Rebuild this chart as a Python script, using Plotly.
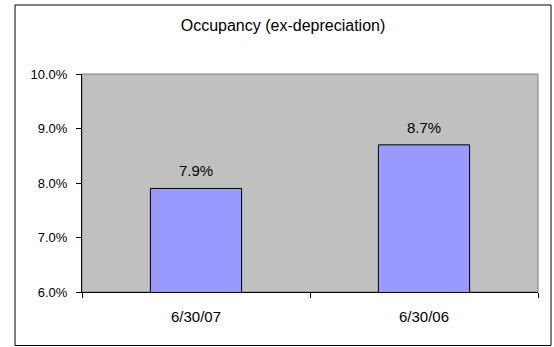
import plotly.graph_objects as go

# Occupancy ratio (ex-depreciation) by period end
periods = ["6/30/07", "6/30/06"]
occupancy = [0.079, 0.087]
y_ticks = [0.06, 0.07, 0.08, 0.09, 0.10]

W, H = 554, 347
# plot-area box in pixels
L, R, T, B = 82, 538, 74, 292
pw, ph = R - L, B - T


def px_x(x):
    return (x - L) / pw


def px_y(y):
    return (B - y) / ph


FONT = "Liberation Sans, Arial, sans-serif"

fig = go.Figure()
fig.add_trace(go.Bar(
    x=periods,
    y=occupancy,
    width=0.4,
    marker=dict(color="#9999FF", line=dict(color="#000000", width=1)),
    hoverinfo="skip",
))

for p, v in zip(periods, occupancy):
    fig.add_annotation(
        x=p, y=v, xref="x", yref="y",
        text=f"{v * 100:.1f}%",
        showarrow=False, yanchor="bottom", yshift=7,
        font=dict(family=FONT, size=15, color="#000000"),
    )

# chart-area frame and plot-area edge
fig.add_shape(type="rect", xref="paper", yref="paper",
              x0=px_x(15), x1=px_x(551), y0=px_y(345.5), y1=px_y(5),
              line=dict(color="#000000", width=1), fillcolor="rgba(0,0,0,0)")
fig.add_shape(type="rect", xref="paper", yref="paper",
              x0=0, x1=1, y0=0, y1=1, layer="below",
              line=dict(color="#808080", width=1), fillcolor="rgba(0,0,0,0)")

fig.update_layout(
    width=W, height=H,
    margin=dict(l=L, r=W - R, t=T, b=H - B, pad=0),
    paper_bgcolor="#FFFFFF",
    plot_bgcolor="#C0C0C0",
    showlegend=False,
    bargap=0.6,
    font=dict(family=FONT, color="#000000"),
    title=dict(
        text="Occupancy (ex-depreciation)",
        font=dict(family=FONT, size=16, color="#000000"),
        xref="container", yref="container",
        x=283 / W, xanchor="center",
        y=1 - 25 / H, yanchor="middle",
    ),
    xaxis=dict(
        type="category",
        showgrid=False, zeroline=False,
        showline=True, linecolor="#000000", linewidth=1,
        ticks="outside", ticklen=5, tickcolor="#000000",
        tickson="boundaries",
        tickfont=dict(family=FONT, size=15, color="#000000"),
        ticklabelstandoff=11,
    ),
    yaxis=dict(
        range=[0.06, 0.10],
        tickvals=y_ticks,
        tickformat=".1%",
        showgrid=False, zeroline=False,
        showline=True, linecolor="#000000", linewidth=1,
        ticks="outside", ticklen=5, tickcolor="#000000",
        tickfont=dict(family=FONT, size=13, color="#000000"),
        ticklabelstandoff=6,
    ),
)

fig.write_html("out.html")
